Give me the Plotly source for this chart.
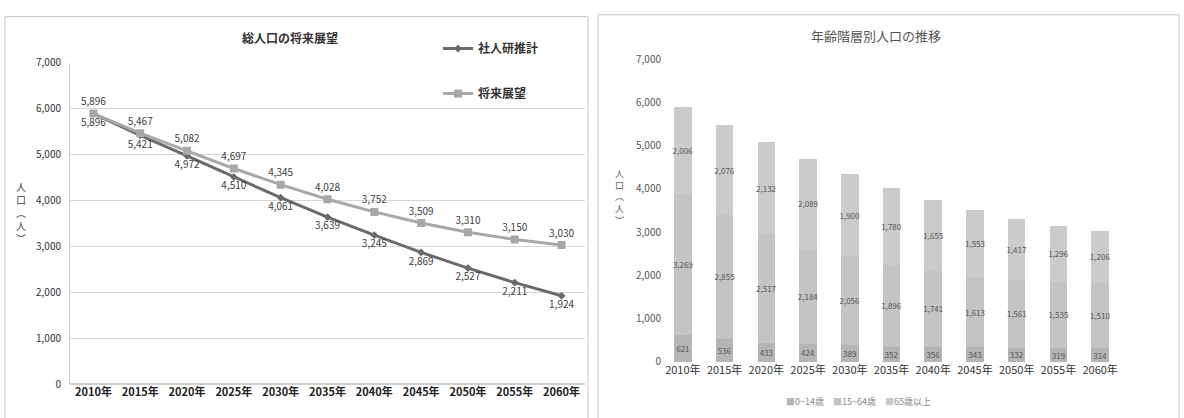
import plotly.graph_objects as go

# ---- data ----
years = ["2010年", "2015年", "2020年", "2025年", "2030年", "2035年",
         "2040年", "2045年", "2050年", "2055年", "2060年"]
shajinken = [5896, 5421, 4972, 4510, 4061, 3639, 3245, 2869, 2527, 2211, 1924]
tenbou = [5896, 5467, 5082, 4697, 4345, 4028, 3752, 3509, 3310, 3150, 3030]

age_0_14 = [621, 536, 433, 424, 389, 352, 356, 343, 332, 319, 314]
age_15_64 = [3269, 2855, 2517, 2184, 2056, 1896, 1741, 1613, 1561, 1535, 1510]
age_65 = [2006, 2076, 2132, 2089, 1900, 1780, 1655, 1553, 1417, 1296, 1206]

y_ticks = [0, 1000, 2000, 3000, 4000, 5000, 6000, 7000]

FONT = "Noto Sans CJK JP"
W, H = 1184, 418


def px_x(v):
    return v / W


def px_y(v):
    return 1 - v / H


def fmt(v):
    return f"{v:,}"


fig = go.Figure()

# ---- left: total population lines ----
fig.add_trace(go.Scatter(
    x=years, y=shajinken, name="社人研推計", legend="legend",
    legendgroup="a",
    mode="lines+markers+text",
    line=dict(color="#6b6b6b", width=3),
    marker=dict(symbol="diamond", size=6, color="#6b6b6b"),
    text=[fmt(v) for v in shajinken], textposition="bottom center",
    textfont=dict(family=FONT, size=10, color="#404040"),
    xaxis="x", yaxis="y",
))
fig.add_trace(go.Scatter(
    x=years, y=tenbou, name="将来展望", legend="legend",
    legendgroup="b",
    mode="lines+markers+text",
    line=dict(color="#a8a8a8", width=3),
    marker=dict(symbol="square", size=8, color="#a8a8a8"),
    text=[fmt(v) for v in tenbou], textposition="top center",
    textfont=dict(family=FONT, size=10, color="#404040"),
    xaxis="x", yaxis="y",
))

# ---- right: stacked bars by age group ----
bar_series = [
    ("0~14歳", age_0_14, "#b5b5b5"),
    ("15~64歳", age_15_64, "#c4c4c4"),
    ("65歳以上", age_65, "#cbcbcb"),
]
for name, vals, col in bar_series:
    fig.add_trace(go.Bar(
        x=years, y=vals, name=name, showlegend=False,
        marker=dict(color=col, line=dict(width=0)),
        text=[fmt(v) for v in vals], textposition="inside",
        insidetextanchor="middle", constraintext="none", textangle=0,
        textfont=dict(family=FONT, size=8, color="#555555"),
        xaxis="x2", yaxis="y2",
    ))

# compact key below the bar chart
key_text = "\u3000".join(
    f'<span style="color:{col}">■</span>{name}' for name, _, col in bar_series
)

axis_font = dict(family=FONT, size=10, color="#333333")

fig.update_layout(
    width=W, height=H,
    margin=dict(l=0, r=0, t=0, b=0),
    paper_bgcolor="white", plot_bgcolor="white",
    font=dict(family=FONT, color="#333333"),
    barmode="stack", bargap=0.58,
    xaxis=dict(
        domain=[px_x(70), px_x(585)], anchor="y",
        type="category", range=[-0.5, 10.5],
        tickfont=dict(family=FONT, size=11, color="#222222", weight="bold"),
        showgrid=False, showline=False, ticks="", zeroline=False,
    ),
    yaxis=dict(
        domain=[px_y(390), px_y(56)], anchor="x",
        range=[0, 7000], tickvals=y_ticks, tickformat=",d",
        tickfont=axis_font, ticklabelstandoff=6,
        showgrid=True, gridcolor="#d6d6d6", gridwidth=1,
        showline=True, linecolor="#cfcfcf", zeroline=True, zerolinecolor="#cfcfcf",
    ),
    xaxis2=dict(
        domain=[px_x(662), px_x(1121)], anchor="y2",
        type="category", range=[-0.5, 10.5],
        tickfont=dict(family=FONT, size=11, color="#333333"),
        showgrid=False, showline=False, ticks="", zeroline=False,
    ),
    yaxis2=dict(
        domain=[px_y(367), px_y(52)], anchor="x2",
        range=[0, 7000], tickvals=y_ticks, tickformat=",d",
        tickfont=dict(family=FONT, size=10, color="#555555"),
        ticklabelstandoff=0,
        showgrid=False, showline=False, zeroline=False,
    ),
    legend=dict(
        x=px_x(438), y=px_y(26), xanchor="left", yanchor="top",
        orientation="v", tracegroupgap=26, bgcolor="white",
        font=dict(family=FONT, size=12, color="#333333", weight="bold"),
        itemwidth=30,
    ),
    shapes=[
        dict(type="rect", xref="paper", yref="paper",
             x0=px_x(5), x1=px_x(588), y0=-0.05, y1=px_y(8),
             line=dict(color="#c4c4c4", width=1)),
        dict(type="rect", xref="paper", yref="paper",
             x0=px_x(598), x1=px_x(1179), y0=-0.05, y1=px_y(6),
             line=dict(color="#c4c4c4", width=1)),
    ],
    annotations=[
        dict(text="総人口の将来展望", x=px_x(290), y=px_y(30),
             xref="paper", yref="paper", showarrow=False,
             xanchor="center", yanchor="middle",
             font=dict(family=FONT, size=12, color="#333333", weight="bold")),
        dict(text="年齢階層別人口の推移", x=px_x(876), y=px_y(28),
             xref="paper", yref="paper", showarrow=False,
             xanchor="center", yanchor="middle",
             font=dict(family=FONT, size=13, color="#555555")),
        dict(text="人<br>口<br>︵<br>人<br>︶", x=px_x(21), y=px_y(212),
             xref="paper", yref="paper", showarrow=False,
             xanchor="center", yanchor="middle",
             font=dict(family=FONT, size=10, color="#444444"),
             align="center"),
        dict(text="人<br>口<br>︵<br>人<br>︶", x=px_x(619), y=px_y(195),
             xref="paper", yref="paper", showarrow=False,
             xanchor="center", yanchor="middle",
             font=dict(family=FONT, size=9, color="#666666"),
             align="center"),
        dict(text=key_text, x=px_x(858), y=px_y(408),
             xref="paper", yref="paper", showarrow=False,
             xanchor="center", yanchor="middle",
             font=dict(family=FONT, size=9, color="#888888")),
    ],
)

fig.write_html("out.html")
